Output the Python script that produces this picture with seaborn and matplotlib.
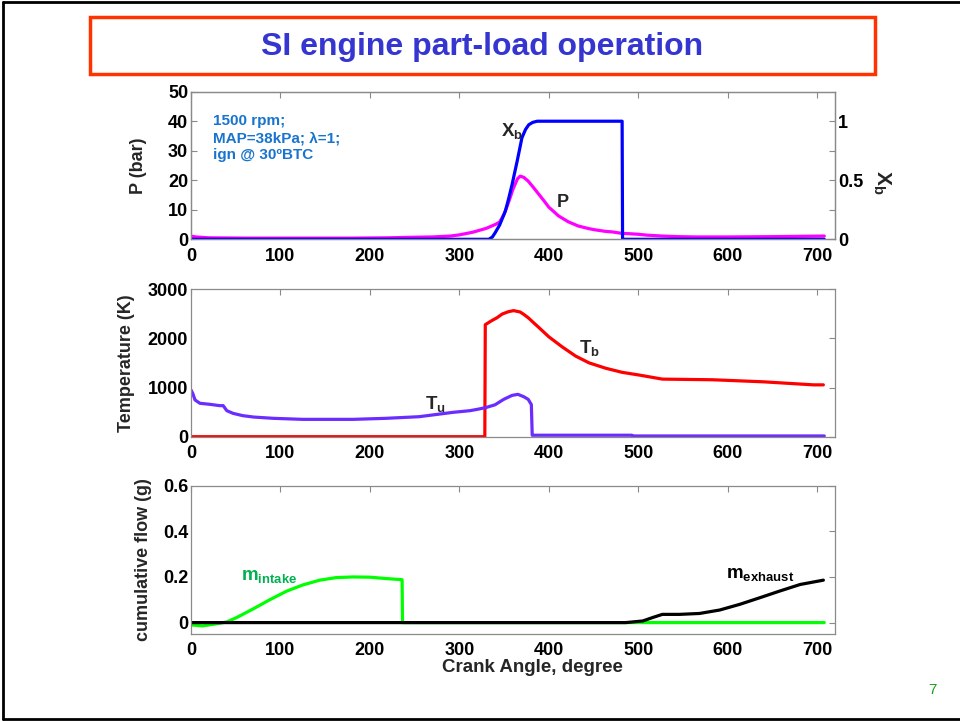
import numpy as np
import pandas as pd
import seaborn as sns
import matplotlib
matplotlib.use("Agg")
import matplotlib.pyplot as plt
from matplotlib.lines import Line2D
from matplotlib.patches import Rectangle
from matplotlib.ticker import MultipleLocator, FixedLocator

# ---------------- data ----------------
p_angle = [0, 5, 20, 60, 120, 180, 220, 250, 270, 290, 300, 315, 330, 340, 345,
           350, 355, 360, 365, 368, 372, 377, 383, 389, 395, 400, 411, 422, 433,
           445, 452, 463, 471, 482, 490, 500, 510, 527, 545, 564, 600, 650, 708]
p_bar = [1.1, 0.8, 0.5, 0.4, 0.4, 0.4, 0.5, 0.7, 0.8, 1.1, 1.5, 2.4, 3.7, 5.0, 5.8,
         8.5, 12.5, 17.0, 20.5, 21.4, 21.0, 19.7, 17.5, 15.2, 12.9, 10.9, 7.9, 5.9, 4.5,
         3.6, 3.2, 2.7, 2.5, 2.0, 1.9, 1.7, 1.4, 1.1, 0.9, 0.8, 0.8, 0.9, 1.1]

xb_angle = [0, 333, 337, 340, 345, 351.5, 355, 359, 364.6, 370, 374, 377.6, 382,
            387, 482, 482.5, 708]
xb = [0, 0, 0.02, 0.055, 0.12, 0.24, 0.34, 0.465, 0.66, 0.86, 0.93, 0.97, 0.99,
      1.0, 1.0, 0.0, 0.0]

tu_angle = [0, 2, 4.5, 10, 21, 32, 36, 40, 47, 58, 70, 92, 125, 181, 218, 255,
            293, 312, 321, 330, 340, 349.6, 359, 365.5, 372, 377, 380.5, 381.5,
            493, 494, 708]
tu = [950, 880, 747, 680, 659, 632, 632, 530, 475, 428, 400, 374, 353, 353, 374,
      407, 496, 530, 560, 595, 650, 760, 841, 862, 814, 760, 655, 30,
      30, 15, 15]

tb_angle = [0, 328.5, 329, 336, 342, 348, 355, 360.7, 368, 372, 377.5, 383, 389,
            400, 415, 430, 445, 463.7, 482, 501, 515, 527, 583, 640, 696, 707]
tb = [0, 0, 2280, 2360, 2420, 2497, 2545, 2566, 2538, 2490, 2414, 2320, 2221,
      2034, 1828, 1641, 1503, 1393, 1310, 1255, 1210, 1172, 1159, 1117, 1055, 1055]

mi_angle = [0, 13, 32, 40, 51, 70, 88, 107, 125, 144, 162, 181, 200, 218, 236,
            236.5, 708]
m_intake = [-0.010, -0.0145, -0.003, 0.003, 0.022, 0.061, 0.10, 0.138, 0.165,
            0.186, 0.197, 0.2, 0.199, 0.193, 0.188, 0.0, 0.0]

me_angle = [0, 486, 505, 516, 527, 546, 568.5, 591, 613.5, 636, 658, 681, 707]
m_exhaust = [0, 0, 0.007, 0.022, 0.036, 0.036, 0.04, 0.055, 0.08, 0.109, 0.138,
             0.167, 0.186]

x_ticks = [0, 100, 200, 300, 400, 500, 600, 700]

# ---------------- style ----------------
sns.set_style("white")
plt.rcParams["font.family"] = ["Liberation Sans", "DejaVu Sans"]
plt.rcParams["mathtext.fontset"] = "custom"
plt.rcParams["mathtext.rm"] = "Liberation Sans"
plt.rcParams["mathtext.bf"] = "Liberation Sans:bold"
plt.rcParams["mathtext.it"] = "Liberation Sans:italic"

fig = plt.figure(figsize=(9.6, 7.21), dpi=100)
W, H = 960.0, 721.0

def axes_px(left, top, right, bottom):
    return fig.add_axes([left / W, 1 - bottom / H, (right - left) / W, (bottom - top) / H])

ax1 = axes_px(191, 91.7, 835, 239.3)
ax2 = axes_px(191, 289.3, 835, 436.7)
ax3 = axes_px(191, 485.7, 835, 634)

LW = 2.3
TICK_FS = 13
LAB_FS = 13
spine_c = "#8a8a8a"

def style_axes(ax, right_ticks=True):
    for s in ax.spines.values():
        s.set_color(spine_c)
        s.set_linewidth(0.9)
    ax.tick_params(axis="both", which="both", direction="in", colors=spine_c,
                   labelcolor="black", labelsize=TICK_FS, length=4.5, width=0.8,
                   top=True, right=right_ticks, pad=2)
    ax.tick_params(axis="x", pad=6)
    ax.set_xlim(0, 720)
    ax.xaxis.set_major_locator(FixedLocator(x_ticks))
    ax.set_xticklabels([str(t) for t in x_ticks], fontweight="bold")
    ax.grid(False)

# ---------------- panel 1 ----------------
df_p = pd.DataFrame({"angle": p_angle, "P": p_bar})
df_xb = pd.DataFrame({"angle": xb_angle, "Xb": xb})
sns.lineplot(data=df_p, x="angle", y="P", ax=ax1, color="#FF00FF", lw=LW,
             sort=False, estimator=None)
ax1.set_ylim(0, 50)
ax1.yaxis.set_major_locator(FixedLocator([0, 10, 20, 30, 40, 50]))
style_axes(ax1, right_ticks=False)
ax1.set_yticklabels(["0", "10", "20", "30", "40", "50"], fontweight="bold")
ax1.set_xlabel("")
ax1.set_ylabel("P (bar)", fontsize=LAB_FS, fontweight="bold")
ax1.yaxis.set_label_coords(-0.068, 0.5)

ax1b = ax1.twinx()
sns.lineplot(data=df_xb, x="angle", y="Xb", ax=ax1b, color="#0000FF", lw=LW,
             sort=False, estimator=None)
ax1b.set_ylim(0, 1.25)
ax1b.yaxis.set_major_locator(FixedLocator([0, 0.5, 1]))
ax1b.yaxis.set_minor_locator(FixedLocator([0.25, 0.75]))
ax1b.set_yticklabels(["0", "0.5", "1"], fontweight="bold")
for s in ax1b.spines.values():
    s.set_color(spine_c)
    s.set_linewidth(0.9)
ax1b.tick_params(axis="y", which="both", direction="in", colors=spine_c,
                 labelcolor="black", labelsize=TICK_FS, length=4.5, width=0.8, pad=2)
ax1b.set_ylabel("")
ax1b.set_xlim(0, 720)
ax1b.grid(False)
ax1b.text(1.072, 0.39, r"$\mathbf{X_b}$", transform=ax1b.transAxes, rotation=270,
          ha="center", va="center", fontsize=15)

ax1.text(24.5, 42.5, "1500 rpm;\nMAP=38kPa; \u03bb=1;\nign @ 30\u00baBTC",
         color="#1874CD", fontsize=11, fontweight="bold", ha="left", va="top",
         linespacing=1.3)
ax1b.text(359, 0.915, r"$\mathbf{X_b}$", fontsize=13.5, ha="center", va="center")
ax1.text(416, 12.6, "P", fontsize=13, fontweight="bold", ha="center", va="center")

# ---------------- panel 2 ----------------
df_tb = pd.DataFrame({"angle": tb_angle, "T": tb})
df_tu = pd.DataFrame({"angle": tu_angle, "T": tu})
sns.lineplot(data=df_tb, x="angle", y="T", ax=ax2, color="#FF0000", lw=LW,
             sort=False, estimator=None)
sns.lineplot(data=df_tu, x="angle", y="T", ax=ax2, color="#6A2CFF", lw=LW,
             sort=False, estimator=None)
ax2.set_ylim(0, 3000)
ax2.yaxis.set_major_locator(FixedLocator([0, 1000, 2000, 3000]))
style_axes(ax2)
ax2.set_yticklabels(["0", "1000", "2000", "3000"], fontweight="bold")
ax2.set_xlabel("")
ax2.set_ylabel("Temperature (K)", fontsize=LAB_FS, fontweight="bold")
ax2.yaxis.set_label_coords(-0.087, 0.5)
ax2.text(446, 1805, r"$\mathbf{T_b}$", fontsize=13.5, ha="center", va="center")
ax2.text(273, 666, r"$\mathbf{T_u}$", fontsize=13.5, ha="center", va="center")

# ---------------- panel 3 ----------------
df_mi = pd.DataFrame({"angle": mi_angle, "m": m_intake})
df_me = pd.DataFrame({"angle": me_angle, "m": m_exhaust})
sns.lineplot(data=df_mi, x="angle", y="m", ax=ax3, color="#00FF00", lw=LW,
             sort=False, estimator=None)
sns.lineplot(data=df_me, x="angle", y="m", ax=ax3, color="#000000", lw=LW,
             sort=False, estimator=None)
ax3.set_ylim(-0.05, 0.6)
ax3.yaxis.set_major_locator(FixedLocator([0, 0.2, 0.4, 0.6]))
style_axes(ax3)
ax3.set_yticklabels(["0", "0.2", "0.4", "0.6"], fontweight="bold")
ax3.set_xlabel("")
ax3.set_ylabel("cumulative flow (g)", fontsize=LAB_FS, fontweight="bold")
ax3.yaxis.set_label_coords(-0.061, 0.5)
ax3.text(56, 0.2, r"$\mathbf{m_{intake}}$", color="#00B050", fontsize=13.5,
         ha="left", va="center")
ax3.text(598, 0.21, r"$\mathbf{m_{exhaust}}$", color="black", fontsize=13.5,
         ha="left", va="center")

fig.text(532 / W, 1 - 668 / H, "Crank Angle, degree", fontsize=13.5,
         fontweight="bold", ha="center", va="center")

# ---------------- slide decoration ----------------
fig.add_artist(Rectangle((90 / W, 1 - 74 / H), (875 - 90) / W, (74 - 17.3) / H,
                         transform=fig.transFigure, fill=False,
                         edgecolor="#FF3300", lw=2.5))
fig.text(482.5 / W, 1 - 46.5 / H, "SI engine part-load operation", fontsize=23,
         fontweight="bold", color="#3535D0", ha="center", va="center")
fig.text(932 / W, 1 - 690 / H, "7", fontsize=11, color="#1AA01A",
         ha="center", va="center")
fig.add_artist(Line2D([3 / W, 3 / W], [1 - 2 / H, 1 - 719 / H],
                      transform=fig.transFigure, color="black", lw=2))
fig.add_artist(Line2D([3 / W, 1], [1 - 2 / H, 1 - 2 / H],
                      transform=fig.transFigure, color="black", lw=2))
fig.add_artist(Line2D([3 / W, 1], [1 - 719 / H, 1 - 719 / H],
                      transform=fig.transFigure, color="black", lw=2))

fig.savefig("out.png", dpi=100)
